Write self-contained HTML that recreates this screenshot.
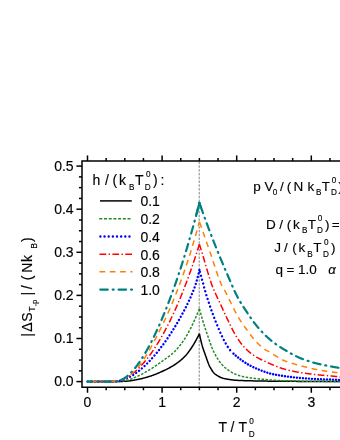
<!DOCTYPE html>
<html><head><meta charset="utf-8"><title>Entropy change</title>
<style>
html,body{margin:0;padding:0;background:#fff;}
body{width:340px;height:440px;overflow:hidden;}
svg{display:block;}
text{font-family:"Liberation Sans",sans-serif;fill:#000;stroke:#000;stroke-width:0.14px;}
</style></head><body>
<svg width="340" height="440" viewBox="0 0 340 440">
<rect width="340" height="440" fill="#fff"/>
<line x1="199.2" y1="161.5" x2="199.2" y2="387" stroke="#858585" stroke-width="1" stroke-dasharray="2.5 1.3"/>
<path d="M199.4,333.75 L199.0,334.56 L198.5,335.56 L198.0,336.55 L197.5,337.50 L197.0,338.43 L196.5,339.36 L196.0,340.28 L195.5,341.19 L195.0,342.09 L194.5,342.97 L194.0,343.83 L193.5,344.66 L193.0,345.47 L192.5,346.25 L192.0,347.01 L191.5,347.76 L191.0,348.51 L190.5,349.24 L190.0,349.97 L189.5,350.68 L189.0,351.37 L188.5,352.05 L188.0,352.72 L187.5,353.36 L187.0,353.98 L186.5,354.59 L186.0,355.17 L185.5,355.72 L185.0,356.25 L184.5,356.76 L184.0,357.26 L183.5,357.74 L183.0,358.22 L182.5,358.68 L182.0,359.13 L181.5,359.58 L181.0,360.01 L180.5,360.43 L180.0,360.84 L179.5,361.24 L179.0,361.64 L178.5,362.02 L178.0,362.40 L177.5,362.77 L177.0,363.13 L176.5,363.48 L176.0,363.83 L175.5,364.17 L175.0,364.50 L174.5,364.83 L174.0,365.15 L173.5,365.46 L173.0,365.77 L172.5,366.07 L172.0,366.37 L171.5,366.66 L171.0,366.95 L170.5,367.23 L170.0,367.51 L169.5,367.78 L169.0,368.05 L168.5,368.32 L168.0,368.58 L167.5,368.84 L167.0,369.09 L166.5,369.34 L166.0,369.59 L165.5,369.83 L165.0,370.08 L164.5,370.32 L164.0,370.55 L163.5,370.79 L163.0,371.02 L162.5,371.25 L162.0,371.48 L161.5,371.71 L161.0,371.93 L160.5,372.16 L160.0,372.38 L159.5,372.60 L159.0,372.82 L158.5,373.03 L158.0,373.25 L157.5,373.46 L157.0,373.67 L156.5,373.87 L156.0,374.08 L155.5,374.28 L155.0,374.47 L154.5,374.67 L154.0,374.86 L153.5,375.05 L153.0,375.23 L152.5,375.41 L152.0,375.59 L151.5,375.76 L151.0,375.93 L150.5,376.09 L150.0,376.25 L149.5,376.41 L149.0,376.56 L148.5,376.72 L148.0,376.87 L147.5,377.02 L147.0,377.17 L146.5,377.31 L146.0,377.46 L145.5,377.60 L145.0,377.74 L144.5,377.88 L144.0,378.01 L143.5,378.14 L143.0,378.27 L142.5,378.40 L142.0,378.52 L141.5,378.65 L141.0,378.76 L140.5,378.88 L140.0,378.99 L139.5,379.10 L139.0,379.21 L138.5,379.31 L138.0,379.41 L137.5,379.50 L137.0,379.59 L136.5,379.69 L136.0,379.78 L135.5,379.87 L135.0,379.96 L134.5,380.06 L134.0,380.15 L133.5,380.24 L133.0,380.32 L132.5,380.41 L132.0,380.49 L131.5,380.57 L131.0,380.65 L130.5,380.73 L130.0,380.80 L129.5,380.87 L129.0,380.94 L128.5,381.00 L128.0,381.06 L127.5,381.11 L127.0,381.16 L126.5,381.20 L126.0,381.24 L125.5,381.27 L125.0,381.30 L124.5,381.32 L124.0,381.35 L123.5,381.37 L123.0,381.39 L122.5,381.42 L122.0,381.44 L121.5,381.46 L121.0,381.48 L120.5,381.49 L120.0,381.51 L119.5,381.53 L119.0,381.54 L118.5,381.55 L118.0,381.57 L117.5,381.58 L117.0,381.58 L116.5,381.59 L116.0,381.60 L115.5,381.60 L115.0,381.60 L114.5,381.60 L114.0,381.60 L113.5,381.60 L113.0,381.60 L112.5,381.60 L112.0,381.60 L111.5,381.60 L111.0,381.60 L110.5,381.60 L110.0,381.60 L109.5,381.60 L109.0,381.60 L108.5,381.60 L108.0,381.60 L107.5,381.60 L107.0,381.60 L106.5,381.60 L106.0,381.60 L105.5,381.60 L105.0,381.60 L104.5,381.60 L104.0,381.60 L103.5,381.60 L103.0,381.60 L102.5,381.60 L102.0,381.60 L101.5,381.60 L101.0,381.60 L100.5,381.60 L100.0,381.60 L99.5,381.60 L99.0,381.60 L98.5,381.60 L98.0,381.60 L97.5,381.60 L97.0,381.60 L96.5,381.60 L96.0,381.60 L95.5,381.60 L95.0,381.60 L94.5,381.60 L94.0,381.60 L93.5,381.60 L93.0,381.60 L92.5,381.60 L92.0,381.60 L91.5,381.60 L91.0,381.60 L90.5,381.60 L90.0,381.60 L89.5,381.60 L89.0,381.60 L88.5,381.60 L88.0,381.60 L87.5,381.60" fill="none" stroke="#000" stroke-width="1.5" stroke-linejoin="round"/>
<path d="M199.4,333.75 L199.9,336.17 L200.4,338.49 L200.9,340.69 L201.4,342.74 L201.9,344.64 L202.4,346.38 L202.9,347.98 L203.4,349.49 L203.9,350.93 L204.4,352.33 L204.9,353.72 L205.4,355.13 L205.9,356.57 L206.4,358.01 L206.9,359.44 L207.4,360.84 L207.9,362.19 L208.4,363.49 L208.9,364.70 L209.4,365.82 L209.9,366.82 L210.4,367.72 L210.9,368.60 L211.4,369.45 L211.9,370.26 L212.4,371.02 L212.9,371.73 L213.4,372.39 L213.9,372.97 L214.4,373.49 L214.9,373.92 L215.4,374.30 L215.9,374.65 L216.4,375.00 L216.9,375.33 L217.4,375.64 L217.9,375.95 L218.4,376.24 L218.9,376.51 L219.4,376.77 L219.9,377.02 L220.4,377.26 L220.9,377.48 L221.4,377.68 L221.9,377.87 L222.4,378.05 L222.9,378.22 L223.4,378.37 L223.9,378.50 L224.4,378.62 L224.9,378.73 L225.4,378.83 L225.9,378.92 L226.4,379.01 L226.9,379.10 L227.4,379.19 L227.9,379.27 L228.4,379.35 L228.9,379.43 L229.4,379.51 L229.9,379.58 L230.4,379.66 L230.9,379.72 L231.4,379.79 L231.9,379.85 L232.4,379.91 L232.9,379.97 L233.4,380.03 L233.9,380.08 L234.4,380.13 L234.9,380.18 L235.4,380.22 L235.9,380.26 L236.4,380.30 L236.9,380.34 L237.4,380.37 L237.9,380.40 L238.4,380.43 L238.9,380.45 L239.4,380.48 L239.9,380.50 L240.4,380.51 L240.9,380.53 L241.4,380.55 L241.9,380.56 L242.4,380.58 L242.9,380.60 L243.4,380.61 L243.9,380.63 L244.4,380.64 L244.9,380.66 L245.4,380.67 L245.9,380.69 L246.4,380.70 L246.9,380.72 L247.4,380.73 L247.9,380.74 L248.4,380.76 L248.9,380.77 L249.4,380.78 L249.9,380.80 L250.4,380.81 L250.9,380.82 L251.4,380.83 L251.9,380.84 L252.4,380.86 L252.9,380.87 L253.4,380.88 L253.9,380.89 L254.4,380.90 L254.9,380.91 L255.4,380.92 L255.9,380.93 L256.4,380.94 L256.9,380.95 L257.4,380.96 L257.9,380.97 L258.4,380.98 L258.9,380.99 L259.4,381.00 L259.9,381.01 L260.4,381.02 L260.9,381.02 L261.4,381.03 L261.9,381.04 L262.4,381.05 L262.9,381.06 L263.4,381.06 L263.9,381.07 L264.4,381.08 L264.9,381.09 L265.4,381.09 L265.9,381.10 L266.4,381.11 L266.9,381.11 L267.4,381.12 L267.9,381.13 L268.4,381.13 L268.9,381.14 L269.4,381.15 L269.9,381.15 L270.4,381.16 L270.9,381.16 L271.4,381.17 L271.9,381.18 L272.4,381.18 L272.9,381.19 L273.4,381.19 L273.9,381.20 L274.4,381.20 L274.9,381.21 L275.4,381.21 L275.9,381.22 L276.4,381.22 L276.9,381.23 L277.4,381.23 L277.9,381.24 L278.4,381.24 L278.9,381.25 L279.4,381.25 L279.9,381.26 L280.4,381.26 L280.9,381.26 L281.4,381.27 L281.9,381.27 L282.4,381.28 L282.9,381.28 L283.4,381.29 L283.9,381.29 L284.4,381.29 L284.9,381.30 L285.4,381.30 L285.9,381.31 L286.4,381.31 L286.9,381.32 L287.4,381.32 L287.9,381.32 L288.4,381.33 L288.9,381.33 L289.4,381.33 L289.9,381.34 L290.4,381.34 L290.9,381.34 L291.4,381.35 L291.9,381.35 L292.4,381.35 L292.9,381.36 L293.4,381.36 L293.9,381.36 L294.4,381.36 L294.9,381.37 L295.4,381.37 L295.9,381.37 L296.4,381.37 L296.9,381.38 L297.4,381.38 L297.9,381.38 L298.4,381.38 L298.9,381.39 L299.4,381.39 L299.9,381.39 L300.4,381.39 L300.9,381.39 L301.4,381.40 L301.9,381.40 L302.4,381.40 L302.9,381.40 L303.4,381.40 L303.9,381.41 L304.4,381.41 L304.9,381.41 L305.4,381.41 L305.9,381.41 L306.4,381.41 L306.9,381.42 L307.4,381.42 L307.9,381.42 L308.4,381.42 L308.9,381.42 L309.4,381.42 L309.9,381.43 L310.4,381.43 L310.9,381.43 L311.4,381.43 L311.9,381.43 L312.4,381.43 L312.9,381.44 L313.4,381.44 L313.9,381.44 L314.4,381.44 L314.9,381.44 L315.4,381.44 L315.9,381.45 L316.4,381.45 L316.9,381.45 L317.4,381.45 L317.9,381.45 L318.4,381.46 L318.9,381.46 L319.4,381.46 L319.9,381.46 L320.4,381.46 L320.9,381.47 L321.4,381.47 L321.9,381.47 L322.4,381.47 L322.9,381.47 L323.4,381.48 L323.9,381.48 L324.4,381.48 L324.9,381.48 L325.4,381.49 L325.9,381.49 L326.4,381.49 L326.9,381.50 L327.4,381.50 L327.9,381.50 L328.4,381.50 L328.9,381.51 L329.4,381.51 L329.9,381.51 L330.4,381.52 L330.9,381.52 L331.4,381.52 L331.9,381.53 L332.4,381.53 L332.9,381.54 L333.4,381.54 L333.9,381.54 L334.4,381.55 L334.9,381.55 L335.4,381.56 L335.9,381.56 L336.4,381.56 L336.9,381.57 L337.4,381.57 L337.9,381.58 L338.4,381.58 L338.9,381.59 L339.4,381.59 L339.9,381.60 L340.4,381.61 L340.9,381.61 L341.4,381.62 L341.9,381.64 L342.4,381.65 L342.9,381.66 L343.4,381.68 L343.9,381.69" fill="none" stroke="#000" stroke-width="1.5"/>
<path d="M199.4,308.75 L199.0,309.74 L198.5,310.97 L198.0,312.18 L197.5,313.38 L197.0,314.56 L196.5,315.73 L196.0,316.87 L195.5,318.00 L195.0,319.11 L194.5,320.21 L194.0,321.31 L193.5,322.39 L193.0,323.46 L192.5,324.52 L192.0,325.56 L191.5,326.58 L191.0,327.59 L190.5,328.58 L190.0,329.54 L189.5,330.49 L189.0,331.42 L188.5,332.33 L188.0,333.24 L187.5,334.13 L187.0,335.01 L186.5,335.87 L186.0,336.71 L185.5,337.54 L185.0,338.35 L184.5,339.14 L184.0,339.90 L183.5,340.65 L183.0,341.37 L182.5,342.08 L182.0,342.77 L181.5,343.45 L181.0,344.11 L180.5,344.76 L180.0,345.40 L179.5,346.03 L179.0,346.64 L178.5,347.25 L178.0,347.85 L177.5,348.43 L177.0,349.02 L176.5,349.59 L176.0,350.15 L175.5,350.70 L175.0,351.22 L174.5,351.72 L174.0,352.18 L173.5,352.64 L173.0,353.08 L172.5,353.52 L172.0,353.94 L171.5,354.35 L171.0,354.76 L170.5,355.16 L170.0,355.55 L169.5,355.94 L169.0,356.32 L168.5,356.69 L168.0,357.06 L167.5,357.43 L167.0,357.79 L166.5,358.15 L166.0,358.51 L165.5,358.86 L165.0,359.22 L164.5,359.57 L164.0,359.93 L163.5,360.28 L163.0,360.64 L162.5,361.00 L162.0,361.36 L161.5,361.72 L161.0,362.08 L160.5,362.44 L160.0,362.80 L159.5,363.16 L159.0,363.51 L158.5,363.87 L158.0,364.22 L157.5,364.57 L157.0,364.92 L156.5,365.27 L156.0,365.61 L155.5,365.95 L155.0,366.29 L154.5,366.63 L154.0,366.96 L153.5,367.29 L153.0,367.62 L152.5,367.94 L152.0,368.26 L151.5,368.58 L151.0,368.89 L150.5,369.20 L150.0,369.50 L149.5,369.80 L149.0,370.10 L148.5,370.40 L148.0,370.70 L147.5,370.99 L147.0,371.29 L146.5,371.58 L146.0,371.87 L145.5,372.16 L145.0,372.44 L144.5,372.72 L144.0,373.00 L143.5,373.28 L143.0,373.55 L142.5,373.82 L142.0,374.08 L141.5,374.34 L141.0,374.60 L140.5,374.85 L140.0,375.10 L139.5,375.34 L139.0,375.58 L138.5,375.81 L138.0,376.03 L137.5,376.25 L137.0,376.47 L136.5,376.69 L136.0,376.91 L135.5,377.13 L135.0,377.36 L134.5,377.58 L134.0,377.80 L133.5,378.02 L133.0,378.24 L132.5,378.45 L132.0,378.66 L131.5,378.86 L131.0,379.06 L130.5,379.26 L130.0,379.44 L129.5,379.62 L129.0,379.79 L128.5,379.95 L128.0,380.10 L127.5,380.24 L127.0,380.37 L126.5,380.48 L126.0,380.59 L125.5,380.68 L125.0,380.75 L124.5,380.82 L124.0,380.88 L123.5,380.95 L123.0,381.01 L122.5,381.07 L122.0,381.13 L121.5,381.19 L121.0,381.24 L120.5,381.29 L120.0,381.34 L119.5,381.39 L119.0,381.43 L118.5,381.47 L118.0,381.50 L117.5,381.53 L117.0,381.55 L116.5,381.57 L116.0,381.59 L115.5,381.60 L115.0,381.60 L114.5,381.60 L114.0,381.60 L113.5,381.60 L113.0,381.60 L112.5,381.60 L112.0,381.60 L111.5,381.60 L111.0,381.60 L110.5,381.60 L110.0,381.60 L109.5,381.60 L109.0,381.60 L108.5,381.60 L108.0,381.60 L107.5,381.60 L107.0,381.60 L106.5,381.60 L106.0,381.60 L105.5,381.60 L105.0,381.60 L104.5,381.60 L104.0,381.60 L103.5,381.60 L103.0,381.60 L102.5,381.60 L102.0,381.60 L101.5,381.60 L101.0,381.60 L100.5,381.60 L100.0,381.60 L99.5,381.60 L99.0,381.60 L98.5,381.60 L98.0,381.60 L97.5,381.60 L97.0,381.60 L96.5,381.60 L96.0,381.60 L95.5,381.60 L95.0,381.60 L94.5,381.60 L94.0,381.60 L93.5,381.60 L93.0,381.60 L92.5,381.60 L92.0,381.60 L91.5,381.60 L91.0,381.60 L90.5,381.60 L90.0,381.60 L89.5,381.60 L89.0,381.60 L88.5,381.60 L88.0,381.60 L87.5,381.60" fill="none" stroke="#228B22" stroke-width="1.5" stroke-dasharray="2.5 1.5" stroke-dashoffset="0"/>
<path d="M199.4,308.75 L199.9,310.58 L200.4,312.38 L200.9,314.16 L201.4,315.91 L201.9,317.64 L202.4,319.34 L202.9,321.01 L203.4,322.66 L203.9,324.29 L204.4,325.88 L204.9,327.45 L205.4,328.98 L205.9,330.49 L206.4,331.96 L206.9,333.42 L207.4,334.87 L207.9,336.30 L208.4,337.73 L208.9,339.16 L209.4,340.62 L209.9,342.08 L210.4,343.52 L210.9,344.93 L211.4,346.29 L211.9,347.57 L212.4,348.77 L212.9,349.91 L213.4,351.01 L213.9,352.06 L214.4,353.07 L214.9,354.04 L215.4,354.96 L215.9,355.85 L216.4,356.71 L216.9,357.55 L217.4,358.36 L217.9,359.15 L218.4,359.91 L218.9,360.64 L219.4,361.35 L219.9,362.03 L220.4,362.67 L220.9,363.30 L221.4,363.90 L221.9,364.48 L222.4,365.05 L222.9,365.58 L223.4,366.10 L223.9,366.58 L224.4,367.03 L224.9,367.45 L225.4,367.87 L225.9,368.27 L226.4,368.67 L226.9,369.06 L227.4,369.45 L227.9,369.82 L228.4,370.19 L228.9,370.54 L229.4,370.89 L229.9,371.23 L230.4,371.55 L230.9,371.87 L231.4,372.17 L231.9,372.47 L232.4,372.75 L232.9,373.02 L233.4,373.27 L233.9,373.51 L234.4,373.74 L234.9,373.96 L235.4,374.16 L235.9,374.36 L236.4,374.55 L236.9,374.74 L237.4,374.92 L237.9,375.10 L238.4,375.27 L238.9,375.43 L239.4,375.59 L239.9,375.75 L240.4,375.89 L240.9,376.04 L241.4,376.17 L241.9,376.31 L242.4,376.43 L242.9,376.55 L243.4,376.67 L243.9,376.78 L244.4,376.88 L244.9,376.98 L245.4,377.08 L245.9,377.17 L246.4,377.26 L246.9,377.34 L247.4,377.43 L247.9,377.51 L248.4,377.59 L248.9,377.67 L249.4,377.75 L249.9,377.82 L250.4,377.89 L250.9,377.96 L251.4,378.03 L251.9,378.10 L252.4,378.17 L252.9,378.23 L253.4,378.29 L253.9,378.35 L254.4,378.41 L254.9,378.47 L255.4,378.53 L255.9,378.58 L256.4,378.64 L256.9,378.69 L257.4,378.74 L257.9,378.79 L258.4,378.85 L258.9,378.89 L259.4,378.94 L259.9,378.99 L260.4,379.04 L260.9,379.08 L261.4,379.13 L261.9,379.18 L262.4,379.22 L262.9,379.27 L263.4,379.32 L263.9,379.36 L264.4,379.41 L264.9,379.45 L265.4,379.50 L265.9,379.54 L266.4,379.58 L266.9,379.63 L267.4,379.67 L267.9,379.71 L268.4,379.75 L268.9,379.79 L269.4,379.84 L269.9,379.88 L270.4,379.92 L270.9,379.96 L271.4,379.99 L271.9,380.03 L272.4,380.07 L272.9,380.11 L273.4,380.14 L273.9,380.18 L274.4,380.21 L274.9,380.25 L275.4,380.28 L275.9,380.31 L276.4,380.34 L276.9,380.38 L277.4,380.41 L277.9,380.44 L278.4,380.46 L278.9,380.49 L279.4,380.52 L279.9,380.54 L280.4,380.57 L280.9,380.59 L281.4,380.62 L281.9,380.64 L282.4,380.66 L282.9,380.68 L283.4,380.70 L283.9,380.71 L284.4,380.73 L284.9,380.75 L285.4,380.76 L285.9,380.78 L286.4,380.79 L286.9,380.80 L287.4,380.82 L287.9,380.83 L288.4,380.84 L288.9,380.86 L289.4,380.87 L289.9,380.88 L290.4,380.90 L290.9,380.91 L291.4,380.92 L291.9,380.93 L292.4,380.94 L292.9,380.95 L293.4,380.97 L293.9,380.98 L294.4,380.99 L294.9,381.00 L295.4,381.01 L295.9,381.02 L296.4,381.03 L296.9,381.04 L297.4,381.05 L297.9,381.06 L298.4,381.07 L298.9,381.08 L299.4,381.08 L299.9,381.09 L300.4,381.10 L300.9,381.11 L301.4,381.12 L301.9,381.13 L302.4,381.13 L302.9,381.14 L303.4,381.15 L303.9,381.16 L304.4,381.17 L304.9,381.17 L305.4,381.18 L305.9,381.19 L306.4,381.19 L306.9,381.20 L307.4,381.21 L307.9,381.21 L308.4,381.22 L308.9,381.23 L309.4,381.23 L309.9,381.24 L310.4,381.25 L310.9,381.25 L311.4,381.26 L311.9,381.26 L312.4,381.27 L312.9,381.28 L313.4,381.28 L313.9,381.29 L314.4,381.29 L314.9,381.30 L315.4,381.30 L315.9,381.31 L316.4,381.31 L316.9,381.32 L317.4,381.32 L317.9,381.33 L318.4,381.33 L318.9,381.34 L319.4,381.34 L319.9,381.35 L320.4,381.35 L320.9,381.35 L321.4,381.36 L321.9,381.36 L322.4,381.36 L322.9,381.37 L323.4,381.37 L323.9,381.38 L324.4,381.38 L324.9,381.38 L325.4,381.38 L325.9,381.39 L326.4,381.39 L326.9,381.39 L327.4,381.40 L327.9,381.40 L328.4,381.40 L328.9,381.41 L329.4,381.41 L329.9,381.41 L330.4,381.42 L330.9,381.42 L331.4,381.42 L331.9,381.43 L332.4,381.43 L332.9,381.43 L333.4,381.44 L333.9,381.44 L334.4,381.45 L334.9,381.45 L335.4,381.45 L335.9,381.46 L336.4,381.46 L336.9,381.47 L337.4,381.47 L337.9,381.48 L338.4,381.48 L338.9,381.49 L339.4,381.49 L339.9,381.50 L340.4,381.50 L340.9,381.51 L341.4,381.52 L341.9,381.53 L342.4,381.53 L342.9,381.54 L343.4,381.55 L343.9,381.56" fill="none" stroke="#228B22" stroke-width="1.5" stroke-dasharray="2.5 1.5" stroke-dashoffset="0"/>
<path d="M199.4,270.00 L199.0,271.84 L198.5,274.01 L198.0,276.06 L197.5,278.00 L197.0,279.82 L196.5,281.55 L196.0,283.18 L195.5,284.73 L195.0,286.21 L194.5,287.61 L194.0,288.96 L193.5,290.26 L193.0,291.52 L192.5,292.75 L192.0,293.95 L191.5,295.12 L191.0,296.28 L190.5,297.42 L190.0,298.53 L189.5,299.63 L189.0,300.71 L188.5,301.78 L188.0,302.83 L187.5,303.86 L187.0,304.88 L186.5,305.89 L186.0,306.89 L185.5,307.87 L185.0,308.84 L184.5,309.81 L184.0,310.76 L183.5,311.70 L183.0,312.64 L182.5,313.57 L182.0,314.50 L181.5,315.41 L181.0,316.32 L180.5,317.22 L180.0,318.12 L179.5,319.00 L179.0,319.88 L178.5,320.76 L178.0,321.62 L177.5,322.48 L177.0,323.33 L176.5,324.18 L176.0,325.02 L175.5,325.85 L175.0,326.68 L174.5,327.50 L174.0,328.31 L173.5,329.12 L173.0,329.92 L172.5,330.71 L172.0,331.50 L171.5,332.28 L171.0,333.06 L170.5,333.83 L170.0,334.59 L169.5,335.35 L169.0,336.10 L168.5,336.85 L168.0,337.59 L167.5,338.32 L167.0,339.05 L166.5,339.78 L166.0,340.50 L165.5,341.21 L165.0,341.92 L164.5,342.62 L164.0,343.32 L163.5,344.01 L163.0,344.70 L162.5,345.38 L162.0,346.06 L161.5,346.73 L161.0,347.39 L160.5,348.05 L160.0,348.70 L159.5,349.35 L159.0,349.99 L158.5,350.63 L158.0,351.26 L157.5,351.89 L157.0,352.51 L156.5,353.12 L156.0,353.73 L155.5,354.33 L155.0,354.93 L154.5,355.52 L154.0,356.10 L153.5,356.68 L153.0,357.25 L152.5,357.82 L152.0,358.38 L151.5,358.94 L151.0,359.48 L150.5,360.03 L150.0,360.56 L149.5,361.09 L149.0,361.62 L148.5,362.14 L148.0,362.65 L147.5,363.15 L147.0,363.65 L146.5,364.15 L146.0,364.63 L145.5,365.11 L145.0,365.59 L144.5,366.06 L144.0,366.52 L143.5,366.97 L143.0,367.42 L142.5,367.86 L142.0,368.30 L141.5,368.73 L141.0,369.15 L140.5,369.57 L140.0,369.98 L139.5,370.38 L139.0,370.77 L138.5,371.16 L138.0,371.55 L137.5,371.92 L137.0,372.29 L136.5,372.66 L136.0,373.01 L135.5,373.36 L135.0,373.70 L134.5,374.04 L134.0,374.37 L133.5,374.69 L133.0,375.00 L132.5,375.31 L132.0,375.61 L131.5,375.90 L131.0,376.19 L130.5,376.47 L130.0,376.74 L129.5,377.01 L129.0,377.26 L128.5,377.52 L128.0,377.76 L127.5,378.00 L127.0,378.23 L126.5,378.45 L126.0,378.66 L125.5,378.87 L125.0,379.07 L124.5,379.26 L124.0,379.45 L123.5,379.63 L123.0,379.80 L122.5,379.96 L122.0,380.11 L121.5,380.26 L121.0,380.40 L120.5,380.54 L120.0,380.66 L119.5,380.78 L119.0,380.89 L118.5,380.99 L118.0,381.09 L117.5,381.17 L117.0,381.25 L116.5,381.32 L116.0,381.39 L115.5,381.44 L115.0,381.49 L114.5,381.53 L114.0,381.56 L113.5,381.59 L113.0,381.60 L112.5,381.60 L112.0,381.60 L111.5,381.60 L111.0,381.60 L110.5,381.60 L110.0,381.60 L109.5,381.60 L109.0,381.60 L108.5,381.60 L108.0,381.60 L107.5,381.60 L107.0,381.60 L106.5,381.60 L106.0,381.60 L105.5,381.60 L105.0,381.60 L104.5,381.60 L104.0,381.60 L103.5,381.60 L103.0,381.60 L102.5,381.60 L102.0,381.60 L101.5,381.60 L101.0,381.60 L100.5,381.60 L100.0,381.60 L99.5,381.60 L99.0,381.60 L98.5,381.60 L98.0,381.60 L97.5,381.60 L97.0,381.60 L96.5,381.60 L96.0,381.60 L95.5,381.60 L95.0,381.60 L94.5,381.60 L94.0,381.60 L93.5,381.60 L93.0,381.60 L92.5,381.60 L92.0,381.60 L91.5,381.60 L91.0,381.60 L90.5,381.60 L90.0,381.60 L89.5,381.60 L89.0,381.60 L88.5,381.60 L88.0,381.60 L87.5,381.60" fill="none" stroke="#0000ff" stroke-width="2.4" stroke-linecap="round" stroke-dasharray="0.01 3.6" stroke-dashoffset="0"/>
<path d="M199.4,270.00 L199.9,271.83 L200.4,273.65 L200.9,275.48 L201.4,277.31 L201.9,279.14 L202.4,280.97 L202.9,282.80 L203.4,284.63 L203.9,286.48 L204.4,288.35 L204.9,290.15 L205.4,291.86 L205.9,293.53 L206.4,295.16 L206.9,296.75 L207.4,298.32 L207.9,299.87 L208.4,301.39 L208.9,302.90 L209.4,304.40 L209.9,305.88 L210.4,307.35 L210.9,308.79 L211.4,310.22 L211.9,311.63 L212.4,313.02 L212.9,314.39 L213.4,315.73 L213.9,317.06 L214.4,318.36 L214.9,319.64 L215.4,320.91 L215.9,322.16 L216.4,323.39 L216.9,324.60 L217.4,325.79 L217.9,326.97 L218.4,328.15 L218.9,329.32 L219.4,330.48 L219.9,331.64 L220.4,332.78 L220.9,333.90 L221.4,335.00 L221.9,336.08 L222.4,337.13 L222.9,338.14 L223.4,339.12 L223.9,340.06 L224.4,341.00 L224.9,341.92 L225.4,342.83 L225.9,343.73 L226.4,344.60 L226.9,345.45 L227.4,346.27 L227.9,347.07 L228.4,347.83 L228.9,348.55 L229.4,349.23 L229.9,349.88 L230.4,350.48 L230.9,351.05 L231.4,351.59 L231.9,352.11 L232.4,352.61" fill="none" stroke="#0000ff" stroke-width="2.4" stroke-linecap="round" stroke-dasharray="0.01 4.0" stroke-dashoffset="-2"/>
<path d="M232.4,352.61 L232.9,353.09 L233.4,353.55 L233.9,354.00 L234.4,354.44 L234.9,354.88 L235.4,355.31 L235.9,355.74 L236.4,356.17 L236.9,356.59 L237.4,357.00 L237.9,357.40 L238.4,357.80 L238.9,358.19 L239.4,358.58 L239.9,358.96 L240.4,359.33 L240.9,359.70 L241.4,360.07 L241.9,360.42 L242.4,360.78 L242.9,361.12 L243.4,361.46 L243.9,361.80 L244.4,362.14 L244.9,362.46 L245.4,362.79 L245.9,363.11 L246.4,363.42 L246.9,363.73 L247.4,364.04 L247.9,364.33 L248.4,364.62 L248.9,364.90 L249.4,365.18 L249.9,365.45 L250.4,365.71 L250.9,365.96 L251.4,366.22 L251.9,366.46 L252.4,366.71 L252.9,366.95 L253.4,367.18 L253.9,367.41 L254.4,367.64 L254.9,367.87 L255.4,368.09 L255.9,368.31 L256.4,368.52 L256.9,368.74 L257.4,368.95 L257.9,369.15 L258.4,369.36 L258.9,369.56 L259.4,369.76 L259.9,369.96 L260.4,370.16 L260.9,370.36 L261.4,370.55 L261.9,370.75 L262.4,370.95 L262.9,371.14 L263.4,371.33 L263.9,371.53 L264.4,371.71 L264.9,371.90 L265.4,372.08 L265.9,372.26 L266.4,372.43 L266.9,372.60 L267.4,372.76 L267.9,372.92 L268.4,373.07 L268.9,373.21 L269.4,373.35 L269.9,373.48 L270.4,373.60 L270.9,373.72 L271.4,373.83 L271.9,373.95 L272.4,374.06 L272.9,374.17 L273.4,374.27 L273.9,374.38 L274.4,374.48 L274.9,374.58 L275.4,374.68 L275.9,374.77 L276.4,374.87 L276.9,374.96 L277.4,375.05 L277.9,375.14 L278.4,375.23 L278.9,375.31 L279.4,375.39 L279.9,375.48 L280.4,375.56 L280.9,375.64 L281.4,375.72 L281.9,375.79 L282.4,375.87 L282.9,375.94 L283.4,376.02 L283.9,376.09 L284.4,376.16 L284.9,376.24 L285.4,376.31 L285.9,376.38 L286.4,376.45 L286.9,376.52 L287.4,376.58 L287.9,376.65 L288.4,376.72 L288.9,376.78 L289.4,376.85 L289.9,376.91 L290.4,376.98 L290.9,377.04 L291.4,377.10 L291.9,377.16 L292.4,377.22 L292.9,377.28 L293.4,377.34 L293.9,377.39 L294.4,377.45 L294.9,377.51 L295.4,377.56 L295.9,377.61 L296.4,377.66 L296.9,377.71 L297.4,377.76 L297.9,377.81 L298.4,377.86 L298.9,377.90 L299.4,377.95 L299.9,377.99 L300.4,378.03 L300.9,378.08 L301.4,378.12 L301.9,378.16 L302.4,378.20 L302.9,378.23 L303.4,378.27 L303.9,378.31 L304.4,378.35 L304.9,378.38 L305.4,378.42 L305.9,378.45 L306.4,378.49 L306.9,378.52 L307.4,378.56 L307.9,378.59 L308.4,378.62 L308.9,378.65 L309.4,378.68 L309.9,378.72 L310.4,378.75 L310.9,378.78 L311.4,378.80 L311.9,378.83 L312.4,378.86 L312.9,378.89 L313.4,378.92 L313.9,378.94 L314.4,378.97 L314.9,378.99 L315.4,379.02 L315.9,379.04 L316.4,379.07 L316.9,379.09 L317.4,379.11 L317.9,379.14 L318.4,379.16 L318.9,379.18 L319.4,379.20 L319.9,379.22 L320.4,379.24 L320.9,379.26 L321.4,379.27 L321.9,379.29 L322.4,379.31 L322.9,379.33 L323.4,379.34 L323.9,379.36 L324.4,379.38 L324.9,379.39 L325.4,379.41 L325.9,379.43 L326.4,379.44 L326.9,379.46 L327.4,379.48 L327.9,379.49 L328.4,379.51 L328.9,379.53 L329.4,379.54 L329.9,379.56 L330.4,379.58 L330.9,379.59 L331.4,379.61 L331.9,379.63 L332.4,379.65 L332.9,379.67 L333.4,379.69 L333.9,379.71 L334.4,379.73 L334.9,379.75 L335.4,379.77 L335.9,379.79 L336.4,379.81 L336.9,379.84 L337.4,379.86 L337.9,379.89 L338.4,379.91 L338.9,379.94 L339.4,379.97 L339.9,379.99 L340.4,380.02 L340.9,380.06 L341.4,380.09 L341.9,380.13 L342.4,380.17 L342.9,380.22 L343.4,380.26 L343.9,380.30" fill="none" stroke="#0000ff" stroke-width="2.4" stroke-linecap="round" stroke-dasharray="0.01 3.0" stroke-dashoffset="-1.5"/>
<path d="M199.4,244.30 L199.0,245.58 L198.5,247.17 L198.0,248.75 L197.5,250.32 L197.0,251.88 L196.5,253.43 L196.0,254.97 L195.5,256.49 L195.0,258.01 L194.5,259.51 L194.0,261.01 L193.5,262.49 L193.0,263.96 L192.5,265.42 L192.0,266.87 L191.5,268.31 L191.0,269.74 L190.5,271.16 L190.0,272.57 L189.5,273.97 L189.0,275.36 L188.5,276.74 L188.0,278.11 L187.5,279.46 L187.0,280.81 L186.5,282.15 L186.0,283.48 L185.5,284.79 L185.0,286.10 L184.5,287.40 L184.0,288.69 L183.5,289.96 L183.0,291.23 L182.5,292.49 L182.0,293.74 L181.5,294.97 L181.0,296.20 L180.5,297.42 L180.0,298.63 L179.5,299.83 L179.0,301.02 L178.5,302.20 L178.0,303.37 L177.5,304.53 L177.0,305.68 L176.5,306.83 L176.0,307.96 L175.5,309.08 L175.0,310.20 L174.5,311.30 L174.0,312.40 L173.5,313.49 L173.0,314.56 L172.5,315.63 L172.0,316.69 L171.5,317.74 L171.0,318.79 L170.5,319.82 L170.0,320.84 L169.5,321.86 L169.0,322.86 L168.5,323.86 L168.0,324.85 L167.5,325.83 L167.0,326.80 L166.5,327.77 L166.0,328.72 L165.5,329.67 L165.0,330.60 L164.5,331.53 L164.0,332.45 L163.5,333.37 L163.0,334.27 L162.5,335.17 L162.0,336.05 L161.5,336.93 L161.0,337.80 L160.5,338.67 L160.0,339.52 L159.5,340.37 L159.0,341.21 L158.5,342.04 L158.0,342.86 L157.5,343.67 L157.0,344.48 L156.5,345.28 L156.0,346.07 L155.5,346.85 L155.0,347.62 L154.5,348.39 L154.0,349.15 L153.5,349.89 L153.0,350.64 L152.5,351.37 L152.0,352.09 L151.5,352.81 L151.0,353.51 L150.5,354.21 L150.0,354.90 L149.5,355.59 L149.0,356.26 L148.5,356.92 L148.0,357.58 L147.5,358.23 L147.0,358.87 L146.5,359.50 L146.0,360.12 L145.5,360.74 L145.0,361.34 L144.5,361.94 L144.0,362.53 L143.5,363.11 L143.0,363.68 L142.5,364.25 L142.0,364.80 L141.5,365.35 L141.0,365.88 L140.5,366.41 L140.0,366.93 L139.5,367.44 L139.0,367.94 L138.5,368.44 L138.0,368.92 L137.5,369.40 L137.0,369.86 L136.5,370.32 L136.0,370.77 L135.5,371.21 L135.0,371.64 L134.5,372.07 L134.0,372.48 L133.5,372.89 L133.0,373.28 L132.5,373.67 L132.0,374.05 L131.5,374.42 L131.0,374.78 L130.5,375.13 L130.0,375.47 L129.5,375.80 L129.0,376.13 L128.5,376.44 L128.0,376.75 L127.5,377.05 L127.0,377.33 L126.5,377.61 L126.0,377.88 L125.5,378.14 L125.0,378.39 L124.5,378.63 L124.0,378.87 L123.5,379.09 L123.0,379.30 L122.5,379.51 L122.0,379.70 L121.5,379.89 L121.0,380.07 L120.5,380.24 L120.0,380.39 L119.5,380.54 L119.0,380.68 L118.5,380.81 L118.0,380.93 L117.5,381.04 L117.0,381.15 L116.5,381.24 L116.0,381.32 L115.5,381.39 L115.0,381.46 L114.5,381.51 L114.0,381.56 L113.5,381.59 L113.0,381.60 L112.5,381.60 L112.0,381.60 L111.5,381.60 L111.0,381.60 L110.5,381.60 L110.0,381.60 L109.5,381.60 L109.0,381.60 L108.5,381.60 L108.0,381.60 L107.5,381.60 L107.0,381.60 L106.5,381.60 L106.0,381.60 L105.5,381.60 L105.0,381.60 L104.5,381.60 L104.0,381.60 L103.5,381.60 L103.0,381.60 L102.5,381.60 L102.0,381.60 L101.5,381.60 L101.0,381.60 L100.5,381.60 L100.0,381.60 L99.5,381.60 L99.0,381.60 L98.5,381.60 L98.0,381.60 L97.5,381.60 L97.0,381.60 L96.5,381.60 L96.0,381.60 L95.5,381.60 L95.0,381.60 L94.5,381.60 L94.0,381.60 L93.5,381.60 L93.0,381.60 L92.5,381.60 L92.0,381.60 L91.5,381.60 L91.0,381.60 L90.5,381.60 L90.0,381.60 L89.5,381.60 L89.0,381.60 L88.5,381.60 L88.0,381.60 L87.5,381.60" fill="none" stroke="#ff0000" stroke-width="1.5" stroke-dasharray="6.7 2.4 1.4 2.4" stroke-dashoffset="0.3"/>
<path d="M199.4,244.30 L199.9,245.90 L200.4,247.50 L200.9,249.11 L201.4,250.71 L201.9,252.32 L202.4,253.95 L202.9,255.61 L203.4,257.29 L203.9,258.98 L204.4,260.69 L204.9,262.41 L205.4,264.13 L205.9,265.86 L206.4,267.57 L206.9,269.28 L207.4,270.98 L207.9,272.66 L208.4,274.31 L208.9,275.94 L209.4,277.54 L209.9,279.11 L210.4,280.64 L210.9,282.12 L211.4,283.55 L211.9,284.93 L212.4,286.26 L212.9,287.54 L213.4,288.77 L213.9,289.97 L214.4,291.14 L214.9,292.27 L215.4,293.39 L215.9,294.48 L216.4,295.55 L216.9,296.61 L217.4,297.66 L217.9,298.71 L218.4,299.76 L218.9,300.81 L219.4,301.86 L219.9,302.93 L220.4,304.02 L220.9,305.11 L221.4,306.20 L221.9,307.29 L222.4,308.38 L222.9,309.48 L223.4,310.57 L223.9,311.65 L224.4,312.74 L224.9,313.82 L225.4,314.89 L225.9,315.97 L226.4,317.03 L226.9,318.09 L227.4,319.15 L227.9,320.19 L228.4,321.23 L228.9,322.26 L229.4,323.29 L229.9,324.30 L230.4,325.31 L230.9,326.32 L231.4,327.33 L231.9,328.33 L232.4,329.33 L232.9,330.32 L233.4,331.29 L233.9,332.25 L234.4,333.18 L234.9,334.08 L235.4,334.96 L235.9,335.80 L236.4,336.61 L236.9,337.41 L237.4,338.19 L237.9,338.96 L238.4,339.70 L238.9,340.43 L239.4,341.14 L239.9,341.83 L240.4,342.51 L240.9,343.17 L241.4,343.80 L241.9,344.42 L242.4,345.03 L242.9,345.62 L243.4,346.19 L243.9,346.76 L244.4,347.30 L244.9,347.84 L245.4,348.36 L245.9,348.87 L246.4,349.37 L246.9,349.85 L247.4,350.32 L247.9,350.78 L248.4,351.23 L248.9,351.67 L249.4,352.10 L249.9,352.52 L250.4,352.93 L250.9,353.32 L251.4,353.71 L251.9,354.09 L252.4,354.46 L252.9,354.82 L253.4,355.16 L253.9,355.50 L254.4,355.83 L254.9,356.14 L255.4,356.45 L255.9,356.75 L256.4,357.05 L256.9,357.33 L257.4,357.62 L257.9,357.89 L258.4,358.16 L258.9,358.43 L259.4,358.70 L259.9,358.96 L260.4,359.21 L260.9,359.46 L261.4,359.70 L261.9,359.94 L262.4,360.17 L262.9,360.40 L263.4,360.63 L263.9,360.86 L264.4,361.09 L264.9,361.32 L265.4,361.55 L265.9,361.79 L266.4,362.03 L266.9,362.27 L267.4,362.51 L267.9,362.75 L268.4,362.98 L268.9,363.21 L269.4,363.44 L269.9,363.66 L270.4,363.87 L270.9,364.08 L271.4,364.29 L271.9,364.50 L272.4,364.71 L272.9,364.92 L273.4,365.13 L273.9,365.34 L274.4,365.55 L274.9,365.75 L275.4,365.95 L275.9,366.15 L276.4,366.35 L276.9,366.55 L277.4,366.75 L277.9,366.94 L278.4,367.13 L278.9,367.31 L279.4,367.50 L279.9,367.68 L280.4,367.86 L280.9,368.03 L281.4,368.20 L281.9,368.37 L282.4,368.53 L282.9,368.69 L283.4,368.84 L283.9,368.99 L284.4,369.13 L284.9,369.27 L285.4,369.41 L285.9,369.54 L286.4,369.67 L286.9,369.80 L287.4,369.93 L287.9,370.05 L288.4,370.17 L288.9,370.29 L289.4,370.41 L289.9,370.53 L290.4,370.64 L290.9,370.75 L291.4,370.86 L291.9,370.97 L292.4,371.08 L292.9,371.19 L293.4,371.29 L293.9,371.39 L294.4,371.49 L294.9,371.59 L295.4,371.68 L295.9,371.78 L296.4,371.87 L296.9,371.96 L297.4,372.05 L297.9,372.14 L298.4,372.23 L298.9,372.32 L299.4,372.40 L299.9,372.48 L300.4,372.57 L300.9,372.65 L301.4,372.72 L301.9,372.80 L302.4,372.88 L302.9,372.95 L303.4,373.03 L303.9,373.10 L304.4,373.17 L304.9,373.24 L305.4,373.31 L305.9,373.38 L306.4,373.45 L306.9,373.51 L307.4,373.58 L307.9,373.64 L308.4,373.71 L308.9,373.77 L309.4,373.83 L309.9,373.89 L310.4,373.96 L310.9,374.02 L311.4,374.08 L311.9,374.14 L312.4,374.20 L312.9,374.26 L313.4,374.31 L313.9,374.37 L314.4,374.43 L314.9,374.49 L315.4,374.55 L315.9,374.60 L316.4,374.66 L316.9,374.71 L317.4,374.76 L317.9,374.81 L318.4,374.86 L318.9,374.91 L319.4,374.96 L319.9,375.01 L320.4,375.05 L320.9,375.10 L321.4,375.14 L321.9,375.19 L322.4,375.23 L322.9,375.27 L323.4,375.32 L323.9,375.36 L324.4,375.40 L324.9,375.44 L325.4,375.48 L325.9,375.53 L326.4,375.57 L326.9,375.61 L327.4,375.65 L327.9,375.70 L328.4,375.74 L328.9,375.78 L329.4,375.83 L329.9,375.87 L330.4,375.92 L330.9,375.96 L331.4,376.01 L331.9,376.05 L332.4,376.10 L332.9,376.15 L333.4,376.20 L333.9,376.25 L334.4,376.31 L334.9,376.36 L335.4,376.42 L335.9,376.47 L336.4,376.53 L336.9,376.59 L337.4,376.65 L337.9,376.72 L338.4,376.78 L338.9,376.85 L339.4,376.92 L339.9,376.99 L340.4,377.06 L340.9,377.14 L341.4,377.23 L341.9,377.33 L342.4,377.43 L342.9,377.54 L343.4,377.65 L343.9,377.76" fill="none" stroke="#ff0000" stroke-width="1.5" stroke-dasharray="6.7 2.4 1.4 2.4" stroke-dashoffset="0.5"/>
<path d="M199.4,221.60 L199.0,223.09 L198.5,224.93 L198.0,226.76 L197.5,228.57 L197.0,230.37 L196.5,232.15 L196.0,233.92 L195.5,235.67 L195.0,237.41 L194.5,239.13 L194.0,240.84 L193.5,242.54 L193.0,244.22 L192.5,245.89 L192.0,247.54 L191.5,249.18 L191.0,250.81 L190.5,252.42 L190.0,254.02 L189.5,255.61 L189.0,257.18 L188.5,258.74 L188.0,260.29 L187.5,261.82 L187.0,263.35 L186.5,264.86 L186.0,266.35 L185.5,267.84 L185.0,269.31 L184.5,270.77 L184.0,272.22 L183.5,273.66 L183.0,275.08 L182.5,276.49 L182.0,277.90 L181.5,279.29 L181.0,280.67 L180.5,282.03 L180.0,283.39 L179.5,284.74 L179.0,286.07 L178.5,287.39 L178.0,288.71 L177.5,290.01 L177.0,291.30 L176.5,292.59 L176.0,293.86 L175.5,295.12 L175.0,296.38 L174.5,297.62 L174.0,298.85 L173.5,300.08 L173.0,301.29 L172.5,302.49 L172.0,303.69 L171.5,304.88 L171.0,306.05 L170.5,307.22 L170.0,308.38 L169.5,309.54 L169.0,310.68 L168.5,311.81 L168.0,312.94 L167.5,314.06 L167.0,315.17 L166.5,316.27 L166.0,317.36 L165.5,318.45 L165.0,319.53 L164.5,320.60 L164.0,321.67 L163.5,322.72 L163.0,323.77 L162.5,324.82 L162.0,325.85 L161.5,326.88 L161.0,327.91 L160.5,328.92 L160.0,329.93 L159.5,330.94 L159.0,331.93 L158.5,332.92 L158.0,333.91 L157.5,334.89 L157.0,335.86 L156.5,336.83 L156.0,337.79 L155.5,338.75 L155.0,339.70 L154.5,340.65 L154.0,341.59 L153.5,342.53 L153.0,343.46 L152.5,344.38 L152.0,345.30 L151.5,346.21 L151.0,347.12 L150.5,348.01 L150.0,348.90 L149.5,349.78 L149.0,350.66 L148.5,351.52 L148.0,352.38 L147.5,353.23 L147.0,354.06 L146.5,354.89 L146.0,355.71 L145.5,356.52 L145.0,357.32 L144.5,358.11 L144.0,358.89 L143.5,359.65 L143.0,360.41 L142.5,361.15 L142.0,361.88 L141.5,362.60 L141.0,363.31 L140.5,364.00 L140.0,364.69 L139.5,365.35 L139.0,366.01 L138.5,366.65 L138.0,367.28 L137.5,367.89 L137.0,368.49 L136.5,369.07 L136.0,369.64 L135.5,370.19 L135.0,370.73 L134.5,371.25 L134.0,371.76 L133.5,372.26 L133.0,372.74 L132.5,373.20 L132.0,373.66 L131.5,374.10 L131.0,374.52 L130.5,374.93 L130.0,375.33 L129.5,375.71 L129.0,376.09 L128.5,376.44 L128.0,376.79 L127.5,377.12 L127.0,377.44 L126.5,377.74 L126.0,378.04 L125.5,378.32 L125.0,378.59 L124.5,378.84 L124.0,379.09 L123.5,379.32 L123.0,379.54 L122.5,379.75 L122.0,379.94 L121.5,380.13 L121.0,380.30 L120.5,380.46 L120.0,380.61 L119.5,380.75 L119.0,380.88 L118.5,381.00 L118.0,381.10 L117.5,381.20 L117.0,381.28 L116.5,381.36 L116.0,381.42 L115.5,381.47 L115.0,381.52 L114.5,381.55 L114.0,381.57 L113.5,381.58 L113.0,381.60 L112.5,381.60 L112.0,381.60 L111.5,381.60 L111.0,381.60 L110.5,381.60 L110.0,381.60 L109.5,381.60 L109.0,381.60 L108.5,381.60 L108.0,381.60 L107.5,381.60 L107.0,381.60 L106.5,381.60 L106.0,381.60 L105.5,381.60 L105.0,381.60 L104.5,381.60 L104.0,381.60 L103.5,381.60 L103.0,381.60 L102.5,381.60 L102.0,381.60 L101.5,381.60 L101.0,381.60 L100.5,381.60 L100.0,381.60 L99.5,381.60 L99.0,381.60 L98.5,381.60 L98.0,381.60 L97.5,381.60 L97.0,381.60 L96.5,381.60 L96.0,381.60 L95.5,381.60 L95.0,381.60 L94.5,381.60 L94.0,381.60 L93.5,381.60 L93.0,381.60 L92.5,381.60 L92.0,381.60 L91.5,381.60 L91.0,381.60 L90.5,381.60 L90.0,381.60 L89.5,381.60 L89.0,381.60 L88.5,381.60 L88.0,381.60 L87.5,381.60" fill="none" stroke="#ff8000" stroke-width="1.5" stroke-dasharray="5.7 4.6" stroke-dashoffset="1.1"/>
<path d="M199.4,221.60 L199.9,223.04 L200.4,224.48 L200.9,225.92 L201.4,227.35 L201.9,228.79 L202.4,230.23 L202.9,231.66 L203.4,233.10 L203.9,234.53 L204.4,235.97 L204.9,237.40 L205.4,238.84 L205.9,240.27 L206.4,241.70 L206.9,243.13 L207.4,244.57 L207.9,246.00 L208.4,247.43 L208.9,248.86 L209.4,250.29 L209.9,251.71 L210.4,253.15 L210.9,254.62 L211.4,256.11 L211.9,257.62 L212.4,259.14 L212.9,260.68 L213.4,262.22 L213.9,263.77 L214.4,265.32 L214.9,266.86 L215.4,268.40 L215.9,269.92 L216.4,271.42 L216.9,272.90 L217.4,274.35 L217.9,275.78 L218.4,277.17 L218.9,278.53 L219.4,279.84 L219.9,281.10 L220.4,282.32 L220.9,283.48 L221.4,284.58 L221.9,285.61 L222.4,286.55 L222.9,287.42 L223.4,288.26 L223.9,289.09 L224.4,289.93 L224.9,290.82 L225.4,291.75 L225.9,292.71 L226.4,293.69 L226.9,294.69 L227.4,295.70 L227.9,296.72 L228.4,297.76 L228.9,298.80 L229.4,299.84 L229.9,300.89 L230.4,301.94 L230.9,302.98 L231.4,304.02 L231.9,305.06 L232.4,306.08 L232.9,307.09 L233.4,308.09 L233.9,309.07 L234.4,310.03 L234.9,310.98 L235.4,311.91 L235.9,312.84 L236.4,313.77 L236.9,314.68 L237.4,315.58 L237.9,316.47 L238.4,317.35 L238.9,318.20 L239.4,319.03 L239.9,319.84 L240.4,320.63 L240.9,321.40 L241.4,322.15 L241.9,322.89 L242.4,323.62 L242.9,324.34 L243.4,325.05 L243.9,325.75 L244.4,326.44 L244.9,327.12 L245.4,327.80 L245.9,328.47 L246.4,329.14 L246.9,329.81 L247.4,330.48 L247.9,331.15 L248.4,331.83 L248.9,332.50 L249.4,333.18 L249.9,333.87 L250.4,334.57 L250.9,335.26 L251.4,335.95 L251.9,336.64 L252.4,337.31 L252.9,337.97 L253.4,338.61 L253.9,339.23 L254.4,339.83 L254.9,340.39 L255.4,340.93 L255.9,341.46 L256.4,341.99 L256.9,342.51 L257.4,343.01 L257.9,343.51 L258.4,344.01 L258.9,344.49 L259.4,344.96 L259.9,345.42 L260.4,345.87 L260.9,346.32 L261.4,346.75 L261.9,347.17 L262.4,347.58 L262.9,347.97 L263.4,348.36 L263.9,348.73 L264.4,349.09 L264.9,349.43 L265.4,349.76 L265.9,350.07 L266.4,350.36 L266.9,350.63 L267.4,350.89 L267.9,351.16 L268.4,351.42 L268.9,351.68 L269.4,351.95 L269.9,352.24 L270.4,352.54 L270.9,352.86 L271.4,353.18 L271.9,353.50 L272.4,353.83 L272.9,354.16 L273.4,354.49 L273.9,354.82 L274.4,355.13 L274.9,355.44 L275.4,355.74 L275.9,356.04 L276.4,356.34 L276.9,356.65 L277.4,356.95 L277.9,357.26 L278.4,357.56 L278.9,357.86 L279.4,358.15 L279.9,358.44 L280.4,358.73 L280.9,359.01 L281.4,359.29 L281.9,359.55 L282.4,359.81 L282.9,360.06 L283.4,360.30 L283.9,360.53 L284.4,360.75 L284.9,360.96 L285.4,361.16 L285.9,361.35 L286.4,361.53 L286.9,361.71 L287.4,361.89 L287.9,362.06 L288.4,362.23 L288.9,362.40 L289.4,362.56 L289.9,362.71 L290.4,362.87 L290.9,363.02 L291.4,363.16 L291.9,363.31 L292.4,363.45 L292.9,363.59 L293.4,363.73 L293.9,363.87 L294.4,364.01 L294.9,364.14 L295.4,364.27 L295.9,364.41 L296.4,364.54 L296.9,364.67 L297.4,364.80 L297.9,364.94 L298.4,365.07 L298.9,365.20 L299.4,365.34 L299.9,365.47 L300.4,365.61 L300.9,365.75 L301.4,365.88 L301.9,366.02 L302.4,366.15 L302.9,366.29 L303.4,366.43 L303.9,366.56 L304.4,366.70 L304.9,366.83 L305.4,366.96 L305.9,367.09 L306.4,367.23 L306.9,367.36 L307.4,367.49 L307.9,367.61 L308.4,367.74 L308.9,367.87 L309.4,367.99 L309.9,368.11 L310.4,368.23 L310.9,368.35 L311.4,368.47 L311.9,368.58 L312.4,368.70 L312.9,368.81 L313.4,368.92 L313.9,369.02 L314.4,369.13 L314.9,369.23 L315.4,369.33 L315.9,369.43 L316.4,369.52 L316.9,369.62 L317.4,369.71 L317.9,369.81 L318.4,369.90 L318.9,369.99 L319.4,370.08 L319.9,370.17 L320.4,370.26 L320.9,370.34 L321.4,370.43 L321.9,370.51 L322.4,370.59 L322.9,370.68 L323.4,370.76 L323.9,370.84 L324.4,370.92 L324.9,370.99 L325.4,371.07 L325.9,371.15 L326.4,371.22 L326.9,371.30 L327.4,371.37 L327.9,371.45 L328.4,371.52 L328.9,371.59 L329.4,371.66 L329.9,371.74 L330.4,371.81 L330.9,371.88 L331.4,371.94 L331.9,372.01 L332.4,372.08 L332.9,372.15 L333.4,372.21 L333.9,372.28 L334.4,372.34 L334.9,372.40 L335.4,372.46 L335.9,372.53 L336.4,372.59 L336.9,372.65 L337.4,372.70 L337.9,372.76 L338.4,372.82 L338.9,372.88 L339.4,372.93 L339.9,372.99 L340.4,373.04 L340.9,373.10 L341.4,373.15 L341.9,373.20 L342.4,373.25 L342.9,373.30 L343.4,373.35 L343.9,373.40" fill="none" stroke="#ff8000" stroke-width="1.5" stroke-dasharray="5.7 4.6" stroke-dashoffset="9.6"/>
<path d="M199.4,202.90 L199.0,204.46 L198.5,206.40 L198.0,208.33 L197.5,210.24 L197.0,212.15 L196.5,214.04 L196.0,215.92 L195.5,217.79 L195.0,219.65 L194.5,221.49 L194.0,223.33 L193.5,225.15 L193.0,226.96 L192.5,228.77 L192.0,230.55 L191.5,232.33 L191.0,234.10 L190.5,235.86 L190.0,237.60 L189.5,239.33 L189.0,241.06 L188.5,242.77 L188.0,244.47 L187.5,246.16 L187.0,247.84 L186.5,249.50 L186.0,251.16 L185.5,252.81 L185.0,254.44 L184.5,256.07 L184.0,257.68 L183.5,259.29 L183.0,260.88 L182.5,262.46 L182.0,264.03 L181.5,265.60 L181.0,267.15 L180.5,268.69 L180.0,270.22 L179.5,271.74 L179.0,273.25 L178.5,274.75 L178.0,276.24 L177.5,277.72 L177.0,279.19 L176.5,280.65 L176.0,282.10 L175.5,283.54 L175.0,284.97 L174.5,286.39 L174.0,287.80 L173.5,289.20 L173.0,290.59 L172.5,291.97 L172.0,293.34 L171.5,294.71 L171.0,296.06 L170.5,297.40 L170.0,298.73 L169.5,300.06 L169.0,301.37 L168.5,302.68 L168.0,303.97 L167.5,305.26 L167.0,306.54 L166.5,307.81 L166.0,309.07 L165.5,310.32 L165.0,311.56 L164.5,312.79 L164.0,314.01 L163.5,315.23 L163.0,316.43 L162.5,317.63 L162.0,318.81 L161.5,319.99 L161.0,321.16 L160.5,322.32 L160.0,323.47 L159.5,324.61 L159.0,325.74 L158.5,326.86 L158.0,327.97 L157.5,329.07 L157.0,330.16 L156.5,331.25 L156.0,332.32 L155.5,333.39 L155.0,334.44 L154.5,335.48 L154.0,336.52 L153.5,337.54 L153.0,338.56 L152.5,339.56 L152.0,340.56 L151.5,341.54 L151.0,342.52 L150.5,343.48 L150.0,344.44 L149.5,345.38 L149.0,346.32 L148.5,347.24 L148.0,348.16 L147.5,349.06 L147.0,349.95 L146.5,350.84 L146.0,351.71 L145.5,352.57 L145.0,353.42 L144.5,354.26 L144.0,355.09 L143.5,355.91 L143.0,356.72 L142.5,357.52 L142.0,358.31 L141.5,359.08 L141.0,359.84 L140.5,360.60 L140.0,361.34 L139.5,362.07 L139.0,362.78 L138.5,363.49 L138.0,364.18 L137.5,364.87 L137.0,365.54 L136.5,366.19 L136.0,366.84 L135.5,367.47 L135.0,368.09 L134.5,368.70 L134.0,369.30 L133.5,369.88 L133.0,370.45 L132.5,371.01 L132.0,371.55 L131.5,372.08 L131.0,372.60 L130.5,373.10 L130.0,373.59 L129.5,374.07 L129.0,374.54 L128.5,374.99 L128.0,375.42 L127.5,375.84 L127.0,376.25 L126.5,376.65 L126.0,377.03 L125.5,377.39 L125.0,377.74 L124.5,378.08 L124.0,378.40 L123.5,378.71 L123.0,379.00 L122.5,379.28 L122.0,379.54 L121.5,379.79 L121.0,380.02 L120.5,380.24 L120.0,380.44 L119.5,380.63 L119.0,380.80 L118.5,380.95 L118.0,381.09 L117.5,381.22 L117.0,381.33 L116.5,381.42 L116.0,381.49 L115.5,381.55 L115.0,381.60 L114.5,381.60 L114.0,381.60 L113.5,381.60 L113.0,381.60 L112.5,381.60 L112.0,381.60 L111.5,381.60 L111.0,381.60 L110.5,381.60 L110.0,381.60 L109.5,381.60 L109.0,381.60 L108.5,381.60 L108.0,381.60 L107.5,381.60 L107.0,381.60 L106.5,381.60 L106.0,381.60 L105.5,381.60 L105.0,381.60 L104.5,381.60 L104.0,381.60 L103.5,381.60 L103.0,381.60 L102.5,381.60 L102.0,381.60 L101.5,381.60 L101.0,381.60 L100.5,381.60 L100.0,381.60 L99.5,381.60 L99.0,381.60 L98.5,381.60 L98.0,381.60 L97.5,381.60 L97.0,381.60 L96.5,381.60 L96.0,381.60 L95.5,381.60 L95.0,381.60 L94.5,381.60 L94.0,381.60 L93.5,381.60 L93.0,381.60 L92.5,381.60 L92.0,381.60 L91.5,381.60 L91.0,381.60 L90.5,381.60 L90.0,381.60 L89.5,381.60 L89.0,381.60 L88.5,381.60 L88.0,381.60 L87.5,381.60" fill="none" stroke="#008080" stroke-width="2.2" stroke-linecap="round" stroke-dasharray="7.5 4.9 1.0 4.9" stroke-dashoffset="12.35"/>
<path d="M199.4,202.90 L199.9,204.32 L200.4,205.74 L200.9,207.15 L201.4,208.56 L201.9,209.96 L202.4,211.36 L202.9,212.75 L203.4,214.14 L203.9,215.53 L204.4,216.90 L204.9,218.28 L205.4,219.65 L205.9,221.01 L206.4,222.37 L206.9,223.72 L207.4,225.07 L207.9,226.42 L208.4,227.76 L208.9,229.09 L209.4,230.42 L209.9,231.74 L210.4,233.06 L210.9,234.37 L211.4,235.67 L211.9,236.97 L212.4,238.27 L212.9,239.56 L213.4,240.84 L213.9,242.12 L214.4,243.39 L214.9,244.65 L215.4,245.91 L215.9,247.16 L216.4,248.41 L216.9,249.65 L217.4,250.88 L217.9,252.11 L218.4,253.33 L218.9,254.55 L219.4,255.76 L219.9,256.97 L220.4,258.17 L220.9,259.37 L221.4,260.56 L221.9,261.75 L222.4,262.94 L222.9,264.12 L223.4,265.30 L223.9,266.48 L224.4,267.65 L224.9,268.82 L225.4,269.98 L225.9,271.15 L226.4,272.31 L226.9,273.47 L227.4,274.63 L227.9,275.78 L228.4,276.94 L228.9,278.09 L229.4,279.24 L229.9,280.40 L230.4,281.55 L230.9,282.70 L231.4,283.85 L231.9,285.00 L232.4,286.16 L232.9,287.31 L233.4,288.46 L233.9,289.60 L234.4,290.71 L234.9,291.79 L235.4,292.84 L235.9,293.87 L236.4,294.88 L236.9,295.87 L237.4,296.85 L237.9,297.80 L238.4,298.72 L238.9,299.62 L239.4,300.50 L239.9,301.35 L240.4,302.18 L240.9,302.99 L241.4,303.79 L241.9,304.58 L242.4,305.35 L242.9,306.12 L243.4,306.88 L243.9,307.64 L244.4,308.39 L244.9,309.15 L245.4,309.91 L245.9,310.67 L246.4,311.43 L246.9,312.19 L247.4,312.95 L247.9,313.70 L248.4,314.46 L248.9,315.21 L249.4,315.95 L249.9,316.69 L250.4,317.43 L250.9,318.15 L251.4,318.87 L251.9,319.58 L252.4,320.29 L252.9,320.98 L253.4,321.66 L253.9,322.32 L254.4,322.98 L254.9,323.62 L255.4,324.25 L255.9,324.88 L256.4,325.50 L256.9,326.11 L257.4,326.71 L257.9,327.31 L258.4,327.90 L258.9,328.49 L259.4,329.06 L259.9,329.63 L260.4,330.20 L260.9,330.75 L261.4,331.30 L261.9,331.84 L262.4,332.37 L262.9,332.89 L263.4,333.41 L263.9,333.91 L264.4,334.41 L264.9,334.90 L265.4,335.39 L265.9,335.86 L266.4,336.33 L266.9,336.80 L267.4,337.25 L267.9,337.71 L268.4,338.15 L268.9,338.59 L269.4,339.03 L269.9,339.45 L270.4,339.88 L270.9,340.29 L271.4,340.71 L271.9,341.11 L272.4,341.51 L272.9,341.90 L273.4,342.29 L273.9,342.68 L274.4,343.05 L274.9,343.43 L275.4,343.79 L275.9,344.15 L276.4,344.51 L276.9,344.86 L277.4,345.21 L277.9,345.55 L278.4,345.88 L278.9,346.22 L279.4,346.54 L279.9,346.87 L280.4,347.19 L280.9,347.51 L281.4,347.82 L281.9,348.13 L282.4,348.44 L282.9,348.74 L283.4,349.05 L283.9,349.35 L284.4,349.64 L284.9,349.94 L285.4,350.24 L285.9,350.53 L286.4,350.83 L286.9,351.12 L287.4,351.42 L287.9,351.71 L288.4,352.00 L288.9,352.29 L289.4,352.58 L289.9,352.87 L290.4,353.16 L290.9,353.44 L291.4,353.72 L291.9,354.00 L292.4,354.28 L292.9,354.56 L293.4,354.83 L293.9,355.09 L294.4,355.36 L294.9,355.62 L295.4,355.87 L295.9,356.13 L296.4,356.37 L296.9,356.62 L297.4,356.85 L297.9,357.09 L298.4,357.31 L298.9,357.53 L299.4,357.75 L299.9,357.96 L300.4,358.16 L300.9,358.36 L301.4,358.56 L301.9,358.76 L302.4,358.95 L302.9,359.14 L303.4,359.33 L303.9,359.52 L304.4,359.70 L304.9,359.88 L305.4,360.06 L305.9,360.23 L306.4,360.41 L306.9,360.58 L307.4,360.74 L307.9,360.91 L308.4,361.07 L308.9,361.23 L309.4,361.39 L309.9,361.55 L310.4,361.70 L310.9,361.85 L311.4,362.00 L311.9,362.14 L312.4,362.29 L312.9,362.43 L313.4,362.57 L313.9,362.71 L314.4,362.84 L314.9,362.97 L315.4,363.10 L315.9,363.23 L316.4,363.36 L316.9,363.48 L317.4,363.61 L317.9,363.73 L318.4,363.84 L318.9,363.96 L319.4,364.08 L319.9,364.19 L320.4,364.30 L320.9,364.41 L321.4,364.52 L321.9,364.63 L322.4,364.74 L322.9,364.84 L323.4,364.95 L323.9,365.05 L324.4,365.15 L324.9,365.25 L325.4,365.35 L325.9,365.45 L326.4,365.55 L326.9,365.65 L327.4,365.75 L327.9,365.84 L328.4,365.94 L328.9,366.04 L329.4,366.13 L329.9,366.23 L330.4,366.33 L330.9,366.42 L331.4,366.52 L331.9,366.61 L332.4,366.70 L332.9,366.80 L333.4,366.89 L333.9,366.98 L334.4,367.07 L334.9,367.16 L335.4,367.24 L335.9,367.33 L336.4,367.42 L336.9,367.50 L337.4,367.58 L337.9,367.67 L338.4,367.75 L338.9,367.83 L339.4,367.91 L339.9,367.98 L340.4,368.06 L340.9,368.14 L341.4,368.21 L341.9,368.28 L342.4,368.35 L342.9,368.42 L343.4,368.49 L343.9,368.56" fill="none" stroke="#008080" stroke-width="2.2" stroke-linecap="round" stroke-dasharray="7.5 4.9 1.0 4.9" stroke-dashoffset="14.9"/>
<path d="M199.4,202.90 L199.0,204.46 L198.5,206.40 L198.0,208.33 L197.5,210.24 L197.0,212.15 L196.5,214.04" fill="none" stroke="#008080" stroke-width="2.2" stroke-linecap="round"/>
<path d="M199.4,202.90 L199.9,204.32 L200.4,205.74 L200.9,207.15" fill="none" stroke="#008080" stroke-width="2.2" stroke-linecap="round"/>
<g stroke="#000" stroke-width="1.5" fill="none">
<path d="M345,161 L82,161 L82,387.2 L345,387.2" stroke-linejoin="miter"/>
<line x1="87.50" y1="387.2" x2="87.50" y2="392.75"/>
<line x1="87.50" y1="161" x2="87.50" y2="155.45"/>
<line x1="106.15" y1="387.2" x2="106.15" y2="390.25"/>
<line x1="106.15" y1="161" x2="106.15" y2="157.95"/>
<line x1="124.80" y1="387.2" x2="124.80" y2="390.25"/>
<line x1="124.80" y1="161" x2="124.80" y2="157.95"/>
<line x1="143.45" y1="387.2" x2="143.45" y2="390.25"/>
<line x1="143.45" y1="161" x2="143.45" y2="157.95"/>
<line x1="162.10" y1="387.2" x2="162.10" y2="392.75"/>
<line x1="162.10" y1="161" x2="162.10" y2="155.45"/>
<line x1="180.75" y1="387.2" x2="180.75" y2="390.25"/>
<line x1="180.75" y1="161" x2="180.75" y2="157.95"/>
<line x1="199.40" y1="387.2" x2="199.40" y2="390.25"/>
<line x1="199.40" y1="161" x2="199.40" y2="157.95"/>
<line x1="218.05" y1="387.2" x2="218.05" y2="390.25"/>
<line x1="218.05" y1="161" x2="218.05" y2="157.95"/>
<line x1="236.70" y1="387.2" x2="236.70" y2="392.75"/>
<line x1="236.70" y1="161" x2="236.70" y2="155.45"/>
<line x1="255.35" y1="387.2" x2="255.35" y2="390.25"/>
<line x1="255.35" y1="161" x2="255.35" y2="157.95"/>
<line x1="274.00" y1="387.2" x2="274.00" y2="390.25"/>
<line x1="274.00" y1="161" x2="274.00" y2="157.95"/>
<line x1="292.65" y1="387.2" x2="292.65" y2="390.25"/>
<line x1="292.65" y1="161" x2="292.65" y2="157.95"/>
<line x1="311.30" y1="387.2" x2="311.30" y2="392.75"/>
<line x1="311.30" y1="161" x2="311.30" y2="155.45"/>
<line x1="329.95" y1="387.2" x2="329.95" y2="390.25"/>
<line x1="329.95" y1="161" x2="329.95" y2="157.95"/>
<line x1="82" y1="381.60" x2="76.45" y2="381.60"/>
<line x1="82" y1="370.83" x2="78.95" y2="370.83"/>
<line x1="82" y1="360.05" x2="78.95" y2="360.05"/>
<line x1="82" y1="349.28" x2="78.95" y2="349.28"/>
<line x1="82" y1="338.50" x2="76.45" y2="338.50"/>
<line x1="82" y1="327.73" x2="78.95" y2="327.73"/>
<line x1="82" y1="316.95" x2="78.95" y2="316.95"/>
<line x1="82" y1="306.18" x2="78.95" y2="306.18"/>
<line x1="82" y1="295.40" x2="76.45" y2="295.40"/>
<line x1="82" y1="284.62" x2="78.95" y2="284.62"/>
<line x1="82" y1="273.85" x2="78.95" y2="273.85"/>
<line x1="82" y1="263.08" x2="78.95" y2="263.08"/>
<line x1="82" y1="252.30" x2="76.45" y2="252.30"/>
<line x1="82" y1="241.53" x2="78.95" y2="241.53"/>
<line x1="82" y1="230.75" x2="78.95" y2="230.75"/>
<line x1="82" y1="219.98" x2="78.95" y2="219.98"/>
<line x1="82" y1="209.20" x2="76.45" y2="209.20"/>
<line x1="82" y1="198.43" x2="78.95" y2="198.43"/>
<line x1="82" y1="187.65" x2="78.95" y2="187.65"/>
<line x1="82" y1="176.88" x2="78.95" y2="176.88"/>
<line x1="82" y1="166.10" x2="76.45" y2="166.10"/>
</g>
<text x="73.6" y="386.30" font-size="14.0" text-anchor="end" >0.0</text>
<text x="73.6" y="343.20" font-size="14.0" text-anchor="end" >0.1</text>
<text x="73.6" y="300.10" font-size="14.0" text-anchor="end" >0.2</text>
<text x="73.6" y="257.00" font-size="14.0" text-anchor="end" >0.3</text>
<text x="73.6" y="213.90" font-size="14.0" text-anchor="end" >0.4</text>
<text x="73.6" y="170.80" font-size="14.0" text-anchor="end" >0.5</text>
<text x="87.50" y="406.8" font-size="14.0" text-anchor="middle" >0</text>
<text x="162.10" y="406.8" font-size="14.0" text-anchor="middle" >1</text>
<text x="236.70" y="406.8" font-size="14.0" text-anchor="middle" >2</text>
<text x="311.30" y="406.8" font-size="14.0" text-anchor="middle" >3</text>
<path d="M100,200.9 L131.8,200.9" fill="none" stroke="#000" stroke-width="1.5"/>
<text x="140.4" y="206.40" font-size="14.0" text-anchor="start" >0.1</text>
<path d="M99.3,218.7 L131,218.7" fill="none" stroke="#228B22" stroke-width="1.5" stroke-dasharray="3 1.7"/>
<text x="140.4" y="224.20" font-size="14.0" text-anchor="start" >0.2</text>
<path d="M100.4,236.55 L130,236.55" fill="none" stroke="#0000ff" stroke-width="2.4" stroke-linecap="round" stroke-dasharray="0.01 4.14"/>
<text x="140.4" y="242.05" font-size="14.0" text-anchor="start" >0.4</text>
<path d="M99.5,254.35 L132.5,254.35" fill="none" stroke="#ff0000" stroke-width="1.5" stroke-dasharray="6.7 2.4 1.4 2.4"/>
<text x="140.4" y="259.85" font-size="14.0" text-anchor="start" >0.6</text>
<path d="M99.5,271.85 L132.5,271.85" fill="none" stroke="#ff8000" stroke-width="1.5" stroke-dasharray="5.7 4.6"/>
<text x="140.4" y="277.35" font-size="14.0" text-anchor="start" >0.8</text>
<path d="M100.3,289.55 L133,289.55" fill="none" stroke="#008080" stroke-width="2.2" stroke-linecap="round" stroke-dasharray="7.5 4.9 1.0 4.9"/>
<text x="140.4" y="295.05" font-size="14.0" text-anchor="start" >1.0</text>
<text x="92.4" y="185.0" font-size="14.0" text-anchor="start" >h</text>
<text x="105.0" y="185.0" font-size="14.0" text-anchor="start" >/</text>
<text x="112.6" y="185.0" font-size="14.0" text-anchor="start" >(</text>
<text x="119.0" y="185.0" font-size="14.0" text-anchor="start" >k</text>
<text x="129.0" y="189.50" font-size="8.2" text-anchor="start" stroke-width="0.12">B</text>
<text x="135.0" y="185.0" font-size="14.0" text-anchor="start" >T</text>
<text x="145.9" y="177.40" font-size="8.2" text-anchor="start" stroke-width="0.12">0</text>
<text x="144.7" y="189.50" font-size="8.2" text-anchor="start" stroke-width="0.12">D</text>
<text x="153.0" y="185.0" font-size="14.0" text-anchor="start" >)</text>
<text x="160.4" y="185.0" font-size="14.0" text-anchor="start" >:</text>
<text x="253.3" y="190.9" font-size="13.5" text-anchor="start" >p</text>
<text x="264.4" y="190.9" font-size="13.5" text-anchor="start" >V</text>
<text x="272.7" y="195.40" font-size="8.2" text-anchor="start" stroke-width="0.12">0</text>
<text x="280.0" y="190.9" font-size="13.5" text-anchor="start" >/</text>
<text x="286.8" y="190.9" font-size="13.5" text-anchor="start" >(</text>
<text x="293.5" y="190.9" font-size="13.5" text-anchor="start" >N</text>
<text x="307.6" y="190.9" font-size="13.5" text-anchor="start" >k</text>
<text x="315.9" y="195.40" font-size="8.2" text-anchor="start" stroke-width="0.12">B</text>
<text x="321.7" y="190.9" font-size="13.5" text-anchor="start" >T</text>
<text x="331.7" y="183.30" font-size="8.2" text-anchor="start" stroke-width="0.12">0</text>
<text x="331.0" y="195.40" font-size="8.2" text-anchor="start" stroke-width="0.12">D</text>
<text x="338.3" y="190.9" font-size="13.5" text-anchor="start" >)</text>
<text x="266.0" y="228.8" font-size="13.5" text-anchor="start" >D</text>
<text x="279.2" y="228.8" font-size="13.5" text-anchor="start" >/</text>
<text x="286.7" y="228.8" font-size="13.5" text-anchor="start" >(</text>
<text x="292.9" y="228.8" font-size="13.5" text-anchor="start" >k</text>
<text x="302.1" y="233.30" font-size="8.2" text-anchor="start" stroke-width="0.12">B</text>
<text x="307.8" y="228.8" font-size="13.5" text-anchor="start" >T</text>
<text x="317.8" y="221.20" font-size="8.2" text-anchor="start" stroke-width="0.12">0</text>
<text x="316.9" y="233.30" font-size="8.2" text-anchor="start" stroke-width="0.12">D</text>
<text x="325.0" y="228.8" font-size="13.5" text-anchor="start" >)</text>
<text x="331.8" y="228.8" font-size="13.5" text-anchor="start" >=</text>
<text x="274.2" y="252.4" font-size="13.5" text-anchor="start" >J</text>
<text x="284.0" y="252.4" font-size="13.5" text-anchor="start" >/</text>
<text x="292.2" y="252.4" font-size="13.5" text-anchor="start" >(</text>
<text x="298.6" y="252.4" font-size="13.5" text-anchor="start" >k</text>
<text x="307.3" y="256.90" font-size="8.2" text-anchor="start" stroke-width="0.12">B</text>
<text x="313.3" y="252.4" font-size="13.5" text-anchor="start" >T</text>
<text x="323.9" y="244.80" font-size="8.2" text-anchor="start" stroke-width="0.12">0</text>
<text x="323.0" y="256.90" font-size="8.2" text-anchor="start" stroke-width="0.12">D</text>
<text x="331.0" y="252.4" font-size="13.5" text-anchor="start" >)</text>
<text x="275.6" y="274.2" font-size="13.5" text-anchor="start" >q</text>
<text x="286.4" y="274.2" font-size="13.5" text-anchor="start" >=</text>
<text x="297.9" y="274.2" font-size="13.5" text-anchor="start" >1.0</text>
<text x="328.3" y="274.0" font-size="13.2" stroke="none" font-style="italic" font-family="'Liberation Serif', serif">α</text>
<text x="218.6" y="432.0" font-size="14.0" text-anchor="start" >T</text>
<text x="230.6" y="432.0" font-size="14.0" text-anchor="start" >/</text>
<text x="238.6" y="432.0" font-size="14.0" text-anchor="start" >T</text>
<text x="249.3" y="424.40" font-size="8.2" text-anchor="start" stroke-width="0.12">0</text>
<text x="248.7" y="436.50" font-size="8.2" text-anchor="start" stroke-width="0.12">D</text>
<g transform="translate(31.7,0) rotate(-90)"><text x="-336.7" y="0" font-size="14.0" fill="#999" stroke="#999" stroke-width="0.2">|</text><text x="-331.7" y="0" font-size="14.0" fill="#000" stroke="#000" stroke-width="0.2">Δ</text><text x="-321.8" y="0" font-size="14.0" fill="#000" stroke="#000" stroke-width="0.2">S</text><text x="-311.5" y="3.6" font-size="8.2" fill="#000" stroke="#000" stroke-width="0.1">T</text><text x="-306.0" y="4.0" font-size="7.0" fill="#000" stroke="#000" stroke-width="0.1">,</text><text x="-303.9" y="5.0" font-size="7.6" fill="#000" stroke="#000" stroke-width="0.1">p</text><text x="-295.5" y="0" font-size="14.0" fill="#000" stroke="#000" stroke-width="0.2">|</text><text x="-289.2" y="0" font-size="14.0" fill="#000" stroke="#000" stroke-width="0.2">/</text><text x="-280.2" y="0" font-size="14.0" fill="#000" stroke="#000" stroke-width="0.2">(</text><text x="-272.8" y="0" font-size="14.0" fill="#000" stroke="#000" stroke-width="0.2">N</text><text x="-262.1" y="0" font-size="14.0" fill="#000" stroke="#000" stroke-width="0.2">k</text><text x="-248.8" y="4.8" font-size="8.6" fill="#000" stroke="#000" stroke-width="0.1">B</text><text x="-241.9" y="0" font-size="14.0" fill="#000" stroke="#000" stroke-width="0.2">)</text></g>
</svg>
</body></html>
